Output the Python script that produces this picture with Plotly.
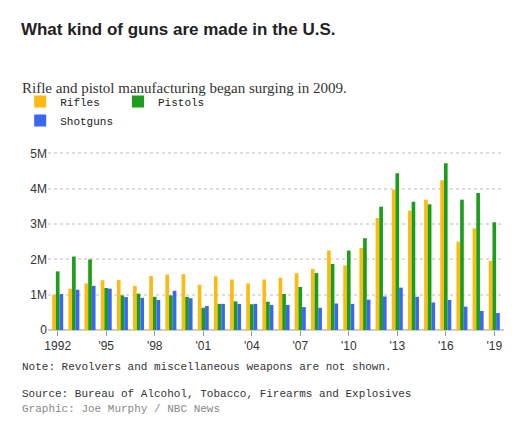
import plotly.graph_objects as go

# production by year, millions
years = list(range(1992, 2020))
rifles = [1.0, 1.17, 1.32, 1.41, 1.42, 1.25, 1.53, 1.57, 1.58, 1.28, 1.52, 1.43, 1.32, 1.43,
          1.48, 1.61, 1.73, 2.25, 1.83, 2.32, 3.17, 3.98, 3.38, 3.69, 4.24, 2.50, 2.88, 1.96]
pistols = [1.66, 2.08, 2.00, 1.19, 0.98, 1.03, 0.94, 0.98, 0.94, 0.63, 0.74, 0.81, 0.73, 0.80,
           1.02, 1.22, 1.61, 1.87, 2.25, 2.60, 3.49, 4.44, 3.63, 3.56, 4.72, 3.69, 3.88, 3.05]
shotguns = [1.02, 1.14, 1.25, 1.17, 0.93, 0.91, 0.85, 1.11, 0.90, 0.68, 0.74, 0.74, 0.74, 0.71,
            0.71, 0.65, 0.63, 0.75, 0.74, 0.86, 0.95, 1.20, 0.94, 0.78, 0.85, 0.66, 0.54, 0.48]
tick_years = [1992, 1995, 1998, 2001, 2004, 2007, 2010, 2013, 2016, 2019]
tick_labels = ['1992', "'95", "'98", "'01", "'04", "'07", "'10", "'13", "'16", "'19"]

MONO = 'Liberation Mono, DejaVu Sans Mono, monospace'
LX = -0.061  # left edge of texts, paper coords

fig = go.Figure()
for name, vals, col in [('Rifles', rifles, '#FDBB10'),
                        ('Pistols', pistols, '#1B9E1B'),
                        ('Shotguns', shotguns, '#3A66F2')]:
    fig.add_trace(go.Bar(x=years, y=[v * 1e6 for v in vals], name=name, marker_color=col,
                         marker_line_width=0))

fig.update_layout(
    width=518, height=427,
    margin=dict(l=40, r=22, t=116, b=105),
    plot_bgcolor='white', paper_bgcolor='white',
    barmode='group', bargap=0.32, bargroupgap=0,
    showlegend=True,
    legend=dict(orientation='h', x=LX, y=0.815, xref='paper', yref='container',
                yanchor='top', xanchor='left',
                font=dict(family=MONO, size=11, color='#222'),
                traceorder='normal'),
    xaxis=dict(tickvals=tick_years, ticktext=tick_labels, ticks='outside', ticklen=5,
               tickcolor='#999', showgrid=False, range=[1991.4, 2019.6],
               tickfont=dict(family='Liberation Sans, Arial', size=12, color='#333')),
    yaxis=dict(tickvals=[0, 1e6, 2e6, 3e6, 4e6, 5e6], ticktext=['0', '1M', '2M', '3M', '4M', '5M'],
               range=[0, 5.15e6], showgrid=True, gridcolor='#ddd', griddash='dot', gridwidth=2,
               zeroline=True, zerolinecolor='#ccc', zerolinewidth=2,
               tickfont=dict(family='Liberation Sans, Arial', size=12, color='#333')),
    title=dict(text='<b>What kind of guns are made in the U.S.</b>', x=0.025, xanchor='left',
               y=0.965, yanchor='top',
               font=dict(family='Liberation Sans, Arial', size=17, color='#222')),
)

fig.add_annotation(text='Rifle and pistol manufacturing began surging in 2009.', xref='paper',
                   yref='paper', x=LX, y=1.33, xanchor='left', yanchor='middle',
                   showarrow=False,
                   font=dict(family='Liberation Serif, DejaVu Serif, serif', size=15, color='#333'))
fig.add_annotation(text='Note: Revolvers and miscellaneous weapons are not shown.', xref='paper',
                   yref='paper', x=LX, y=-0.204, xanchor='left', yanchor='middle',
                   showarrow=False, font=dict(family=MONO, size=11, color='#333'))
fig.add_annotation(text='Source: Bureau of Alcohol, Tobacco, Firearms and Explosives',
                   xref='paper', yref='paper', x=LX, y=-0.35, xanchor='left',
                   yanchor='middle', showarrow=False, font=dict(family=MONO, size=11, color='#333'))
fig.add_annotation(text='Graphic: Joe Murphy / NBC News', xref='paper', yref='paper',
                   x=LX, y=-0.432, xanchor='left', yanchor='middle', showarrow=False,
                   font=dict(family=MONO, size=11, color='#888'))

fig.write_html('out.html')
